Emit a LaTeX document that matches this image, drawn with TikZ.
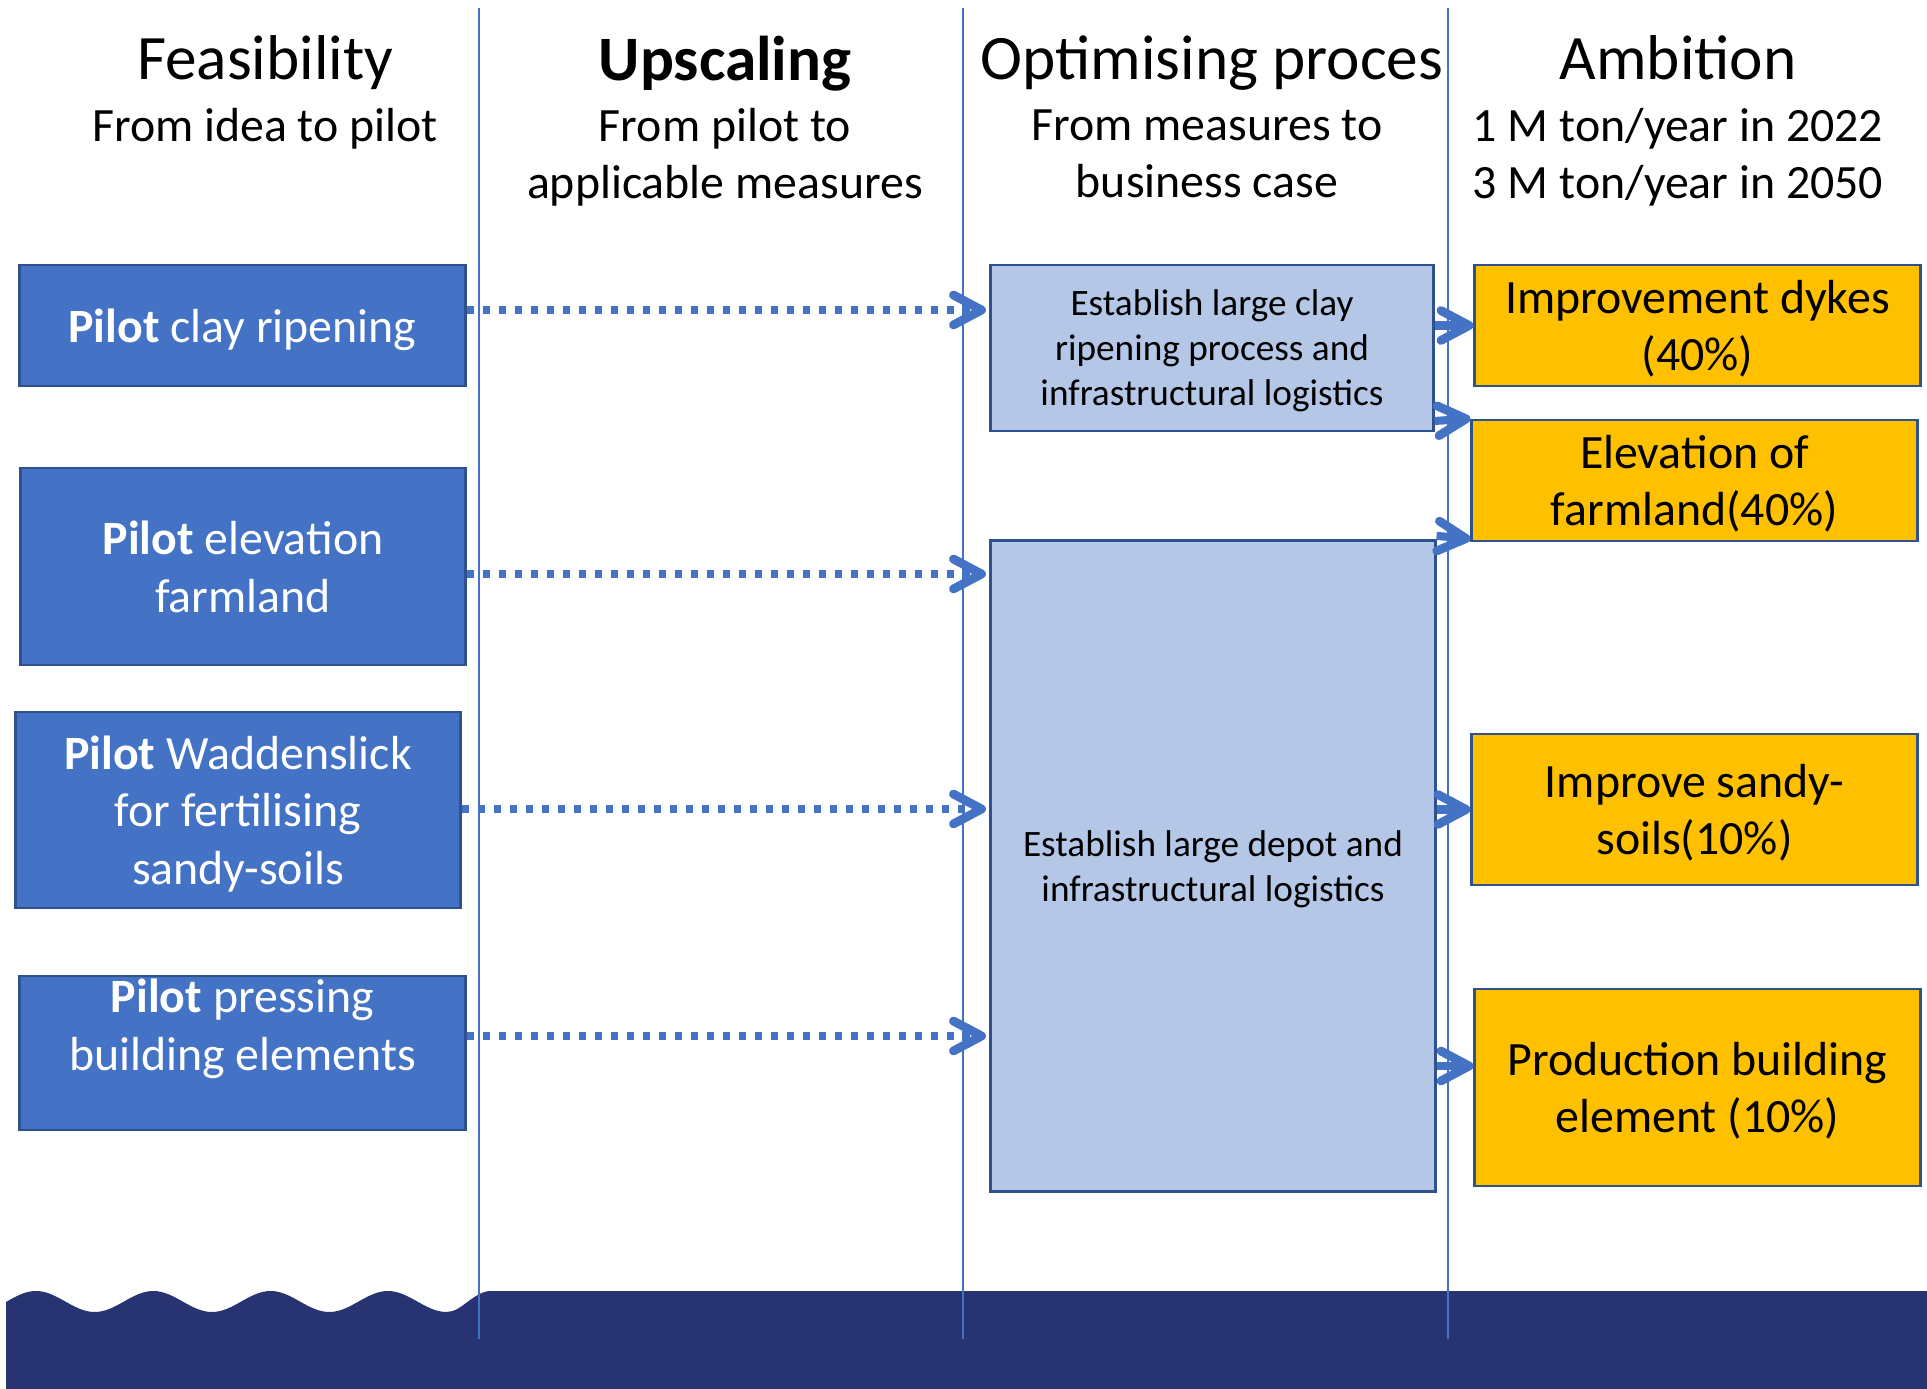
\documentclass[tikz,border=0pt]{standalone}
\usepackage{fontspec}
\setmainfont{Carlito}
\usetikzlibrary{arrows.meta}
\definecolor{pilotblue}{HTML}{4472C4}
\definecolor{boxline}{HTML}{2F528F}
\definecolor{lightblue}{HTML}{B4C7E7}
\definecolor{ambgold}{HTML}{FFC000}
\definecolor{seanavy}{HTML}{283371}
\begin{document}
\begin{tikzpicture}[x=0.01cm,y=-0.01cm,
	every node/.style={text depth=0pt},
	pilot/.style={draw=boxline,line width=0.8pt,fill=pilotblue,text=white,align=center,minimum width=4.45cm,font=\fontsize{13.6}{16.4}\selectfont},
	measure/.style={draw=boxline,line width=0.8pt,fill=lightblue,align=center,font=\fontsize{10.6}{12.8}\selectfont},
	ambit/.style={draw=boxline,line width=0.8pt,fill=ambgold,align=center,minimum width=4.45cm,font=\fontsize{13.6}{16.4}\selectfont},
	head/.style={font=\fontsize{18}{21}\selectfont},
	sub/.style={align=center,font=\fontsize{13.6}{16.2}\selectfont},
	dotarrow/.style={pilotblue,line width=2.1pt,dash pattern=on 2.1pt off 2.45pt,-{Straight Barb[length=8pt,width=8.5pt,line width=2.5pt,round]},shorten >=1pt},
	arrow/.style={pilotblue,line width=2.3pt,-{Straight Barb[length=8pt,width=8.5pt,line width=2.5pt,round]}}]
	\useasboundingbox (0,0) rectangle (1927,1389);

	\fill[seanavy] (6,1389) -- (6,1302) sin (36,1291)
		\foreach \x in {36,153.3,270.6} {cos (\x+29.3,1301.5) sin (\x+58.7,1312) cos (\x+88,1301.5) sin (\x+117.3,1291)}
		cos (417.3,1301.5) sin (446.6,1312) cos (468,1301.5) sin (491,1291) -- (1927,1291) -- (1927,1389) -- cycle;
	\foreach \x in {479,963,1448}
		\draw[pilotblue,line width=0.6pt] (\x,8) -- (\x,1339);

	\node[head] (h1) at (265,58) {Feasibility};
	\node[sub] (s1) at (265,125) {From idea to pilot};
	\node[head] (h2) at (725,58) {\textbf{Upscaling}};
	\node[sub] (s2) at (725,153.5) {From pilot to\\applicable measures};
	\node[head] (h3) at (1212,58) {Optimising proces};
	\node[sub] (s3) at (1207,153.5) {From measures to\\business case};
	\node[head] (h4) at (1678,58) {Ambition};
	\node[sub] (s4) at (1678,153.5) {1 M ton/year in 2022\\3 M ton/year in 2050};

	\node[pilot,minimum height=1.21cm] (p1) at (242.5,325.5) {\textbf{Pilot} clay ripening};
	\node[pilot,minimum height=1.97cm] (p2) at (243,566.5) {\textbf{Pilot} elevation\\farmland};
	\node[pilot,minimum height=1.96cm] (p3) at (238,810) {\textbf{Pilot} Waddenslick\\for fertilising\\sandy-soils};
	\node[pilot,minimum height=1.54cm] (p4) at (242.5,1053) {};
	\node[pilot,draw=none,fill=none,minimum height=0pt] (p4t) at (242.5,1025) {\textbf{Pilot} pressing\\building elements};

	\node[measure,minimum width=4.42cm,minimum height=1.66cm] (c1) at (1212,348) {Establish large clay\\ripening process and\\infrastructural logistics};
	\node[measure,minimum width=4.44cm,minimum height=6.5cm] (c2) at (1213,866) {Establish large depot and\\infrastructural logistics};

	\node[ambit,minimum height=1.21cm] (a1) at (1697.5,325.5) {Improvement dykes\\(40\%)};
	\node[ambit,minimum height=1.21cm] (a2) at (1694.5,480.5) {Elevation of\\farmland(40\%)};
	\node[ambit,minimum height=1.51cm] (a3) at (1694.5,809.5) {Improve sandy-\\soils(10\%)};
	\node[ambit,minimum height=1.97cm] (a4) at (1697.5,1087.5) {Production building\\element (10\%)};

	\draw[dotarrow] (p1.east |- 0,310) -- (c1.west |- 0,310);
	\draw[dotarrow] (p2.east |- 0,574) -- (c2.west |- 0,574);
	\draw[dotarrow] (p3.east |- 0,809) -- (c2.west |- 0,809);
	\draw[dotarrow] (p4.east |- 0,1036) -- (c2.west |- 0,1036);

	\draw[arrow] (c1.east |- a1.west) -- (a1.west);
	\draw[arrow] (c1.east |- 0,421) -- (a2.north west);
	\draw[arrow] ([yshift=1pt]c2.north east) -- ([yshift=1pt]a2.south west);
	\draw[arrow] (c2.east |- a3.west) -- (a3.west);
	\draw[arrow] (c2.east |- 0,1066) -- (a4.west |- 0,1066);
\end{tikzpicture}
\end{document}
